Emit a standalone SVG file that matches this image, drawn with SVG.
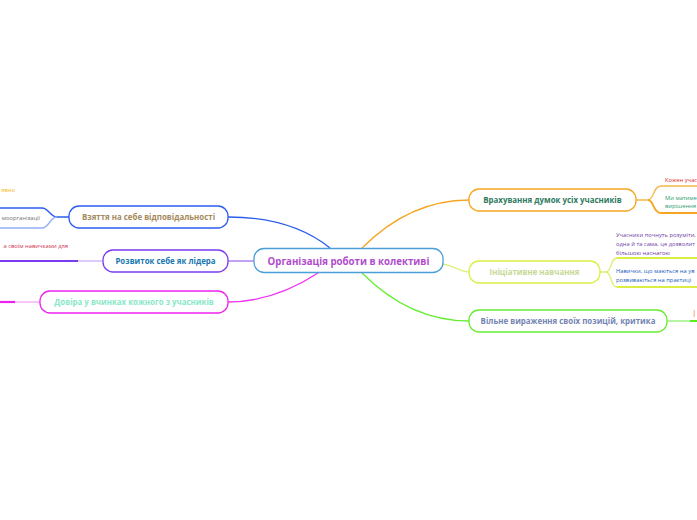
<svg xmlns="http://www.w3.org/2000/svg" width="697" height="520" viewBox="0 0 697 520">
<style>
.n{font-family:"Open Sans","Noto Sans",sans-serif;font-weight:bold;font-size:7.9px;text-anchor:middle}
.s{font-family:"Open Sans","Noto Sans",sans-serif;font-size:5.8px}
.box{fill:#fff;stroke-width:1.3}
.c{fill:none;stroke-width:1.3}
</style>
<rect width="697" height="520" fill="#fff"/>
<g id="connectors">
  <path class="c" d="M330,248 C305,228 270,217 228,217" stroke="#2b5cf0"/>
  <path class="c" d="M254,261 L228,261" stroke="#a070f0"/>
  <path class="c" d="M318,273 C295,288 265,302 228,302" stroke="#ee33ee"/>
  <path class="c" d="M362,248 C385,225 420,200 469,200" stroke="#f5a623"/>
  <path class="c" d="M443,264 C455,266 460,272 469,272" stroke="#dcee70"/>
  <path class="c" d="M362,273 C385,296 420,321 469,321" stroke="#66ee33"/>
  <path class="c" d="M69,217 L57,217 C50,217 49,208 42,208 L0,208" stroke="#2b5cf0"/>
  <path class="c" d="M57,217 C50,217 49,228 42,228 L0,228" stroke="#90b0f8"/>
  <path class="c" d="M103,261 L78,261" stroke="#c8b0f8"/>
  <path d="M78,261 L0,261" stroke="#7a3cf0" stroke-width="2.2" fill="none"/>
  <path class="c" d="M40,302 L15,302" stroke="#f4a8f4"/>
  <path d="M15,302 L0,302" stroke="#ee22ee" stroke-width="2.2" fill="none"/>
  <path class="c" d="M636,200 L648,200 C654,200 653,186 661,186 L697,186" stroke="#f5b84a"/>
  <path d="M648,200 C654,200 653,213 661,213 L697,213" stroke="#f5a623" stroke-width="1.8" fill="none"/>
  <path class="c" d="M600,272 L606,272 C612,272 610,258 617,258" stroke="#dcee70"/>
  <path d="M617,258 L697,258" stroke="#dcee44" stroke-width="2" fill="none"/>
  <path class="c" d="M606,272 C612,272 610,287 617,287" stroke="#dcee70"/>
  <path d="M617,287 L697,287" stroke="#dcee44" stroke-width="2" fill="none"/>
  <path class="c" d="M667,321 L690,321" stroke="#90f070"/>
  <path d="M690,321 L697,321" stroke="#55ee22" stroke-width="2" fill="none"/>
</g>
<g id="center">
  <rect class="box" x="254" y="248.5" width="189" height="24" rx="10" stroke="#4a9fd8"/>
  <text class="n" x="348.5" y="264.5" fill="#b04ccc" style="font-size:9.7px">Організація роботи в колективі</text>
</g>
<g id="n-vzyattia">
  <rect class="box" x="69" y="206" width="159" height="22" rx="10" stroke="#2b5cf0"/>
  <text class="n" x="148.5" y="220" fill="#a58a5c">Взяття на себе відповідальності</text>
</g>
<g id="n-rozvytok">
  <rect class="box" x="103" y="250" width="125" height="22" rx="10" stroke="#7a3cf0"/>
  <text class="n" x="165.5" y="264" fill="#1a78b0">Розвиток себе як лідера</text>
</g>
<g id="n-dovira">
  <rect class="box" x="40" y="291" width="188" height="22" rx="10" stroke="#ee22ee"/>
  <text class="n" x="134" y="305" fill="#88e8c8">Довіра у вчинках кожного з учасників</text>
</g>
<g id="n-vrakhuvannia">
  <rect class="box" x="469" y="189" width="167" height="22" rx="10" stroke="#f5a623"/>
  <text class="n" x="552.5" y="203" fill="#2e7a5e">Врахування думок усіх учасників</text>
</g>
<g id="n-initsiatyvne">
  <rect class="box" x="469" y="261" width="131" height="22" rx="10" stroke="#dcee44"/>
  <text class="n" x="534.5" y="275" fill="#c6d894">Ініціативне навчання</text>
</g>
<g id="n-vilne">
  <rect class="box" x="469" y="310" width="198" height="22" rx="10" stroke="#66ee33"/>
  <text class="n" x="568" y="324" fill="#7484b4">Вільне вираження своїх позицій, критика</text>
</g>
<g id="sub-left">
  <text class="s" x="15" y="192" text-anchor="end" fill="#f5b820">явно</text>
  <text class="s" x="40" y="220" text-anchor="end" fill="#707070">моорганізації</text>
  <text class="s" x="68" y="248" text-anchor="end" fill="#d03050">а своїм навичками для</text>
</g>
<g id="sub-right">
  <text class="s" x="665" y="182" fill="#e02828">Кожен учас</text>
  <text class="s" x="665" y="200" fill="#2aa070">Ми матиме</text>
  <text class="s" x="665" y="208" fill="#2aa070">вирішення</text>
  <text class="s" x="616" y="237" fill="#7040a8">Учасники почнуть розуміти,</text>
  <text class="s" x="616" y="246" fill="#7040a8">одна й та сама, це дозволит</text>
  <text class="s" x="616" y="255" fill="#7040a8">більшою наснагою</text>
  <text class="s" x="616" y="273" fill="#2060c0">Навички, що маються на ув</text>
  <text class="s" x="616" y="282" fill="#2060c0">розвиваються на практиці</text>
  <text class="s" x="693" y="317" fill="#f5a050" style="font-size:9px">І</text>
</g>
</svg>
